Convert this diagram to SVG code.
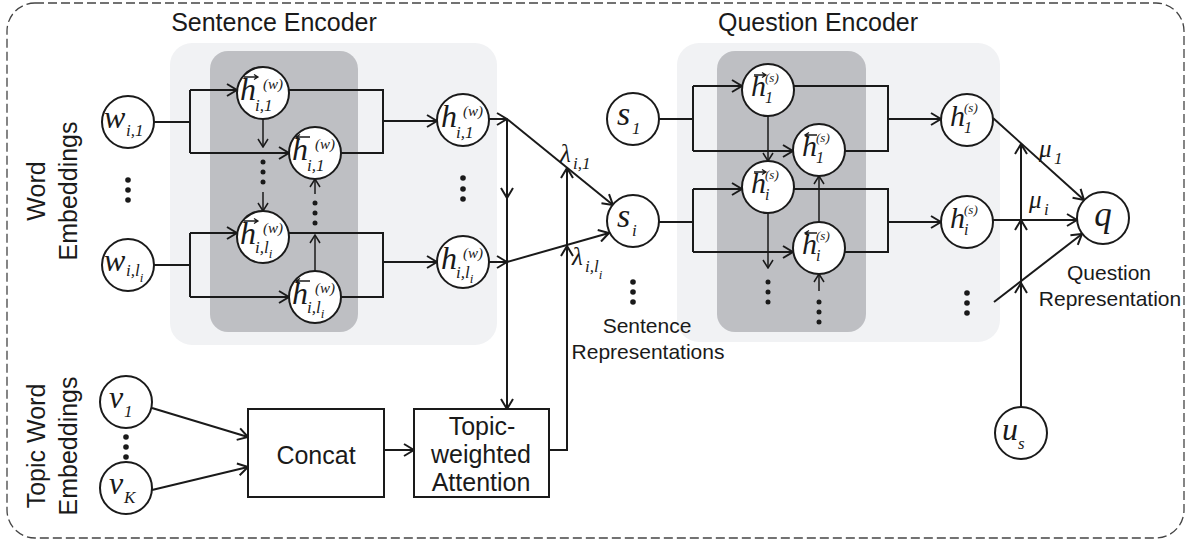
<svg xmlns="http://www.w3.org/2000/svg" width="1188" height="542" viewBox="0 0 1188 542">
<style>
.ln{fill:none;stroke:#1a1a1a;stroke-width:2}
.th{fill:none;stroke:#1a1a1a;stroke-width:1.5}
.nd{fill:#fff;stroke:#1a1a1a;stroke-width:2}
.bx{fill:#fff;stroke:#1a1a1a;stroke-width:2}
.m{font-family:'Liberation Serif',serif;font-style:italic;font-size:32px;fill:#1a1a1a}
.mq{font-family:'Liberation Serif',serif;font-style:italic;font-size:30px;fill:#1a1a1a}
.sb{font-family:'Liberation Serif',serif;font-style:italic;font-size:17px;fill:#1a1a1a}
.sp{font-family:'Liberation Serif',serif;font-style:italic;font-size:15px;fill:#1a1a1a}
.ss{font-size:13px}
.lb{font-family:'Liberation Sans',Arial,sans-serif;font-size:25px;fill:#1a1a1a}
.lm{font-family:'Liberation Sans',Arial,sans-serif;font-size:21px;fill:#1a1a1a}
.dot{fill:#1a1a1a}
.acc{fill:none;stroke:#1a1a1a;stroke-width:1.3}
</style>
<defs>
<marker id="a" viewBox="0 0 12 14" refX="11" refY="7" markerWidth="12" markerHeight="14" markerUnits="userSpaceOnUse" orient="auto">
<path d="M1,1 L11,7 L1,13" fill="none" stroke="#1a1a1a" stroke-width="2"/>
</marker>
<marker id="s" viewBox="0 0 10 12" refX="9" refY="6" markerWidth="10" markerHeight="12" markerUnits="userSpaceOnUse" orient="auto">
<path d="M1,1 L9,6 L1,11" fill="none" stroke="#1a1a1a" stroke-width="1.5"/>
</marker>
</defs>

<rect x="7" y="3" width="1177" height="535" rx="28" fill="none" stroke="#444" stroke-width="1.3" stroke-dasharray="9 4"/>

<g id="sentence-encoder-bg">
<rect x="170" y="43" width="327" height="302" rx="22" fill="#f1f2f4"/>
<rect x="210" y="51" width="148" height="281" rx="18" fill="#bebfc3"/>
</g>
<g id="question-encoder-bg">
<rect x="677" y="43" width="323" height="299" rx="22" fill="#f1f2f4"/>
<rect x="717" y="51" width="149" height="281" rx="18" fill="#bebfc3"/>
</g>

<text class="lb" x="274" y="31" text-anchor="middle">Sentence Encoder</text>
<text class="lb" x="818" y="31" text-anchor="middle">Question Encoder</text>
<text class="lb" transform="translate(45,191) rotate(-90)" text-anchor="middle">Word</text>
<text class="lb" transform="translate(77,191) rotate(-90)" text-anchor="middle">Embeddings</text>
<text class="lb" transform="translate(45,446) rotate(-90)" text-anchor="middle">Topic Word</text>
<text class="lb" transform="translate(77,446) rotate(-90)" text-anchor="middle">Embeddings</text>
<text class="lm" x="647" y="333" text-anchor="middle">Sentence</text>
<text class="lm" x="648" y="359" text-anchor="middle">Representations</text>
<text class="lm" x="1109" y="280" text-anchor="middle">Question</text>
<text class="lm" x="1110" y="306" text-anchor="middle">Representation</text>

<g id="connectors">
<path class="ln" d="M154,122 H190 M190,90 V153"/>
<path class="ln" d="M190,90 H237" marker-end="url(#a)"/>
<path class="ln" d="M190,153 H289" marker-end="url(#a)"/>
<path class="ln" d="M289,90 H383 V153 H341"/>
<path class="ln" d="M383,121 H437" marker-end="url(#a)"/>
<path class="ln" d="M154,265 H190 M190,233 V297"/>
<path class="ln" d="M190,233 H237" marker-end="url(#a)"/>
<path class="ln" d="M190,297 H289" marker-end="url(#a)"/>
<path class="ln" d="M289,233 H383 V297 H341"/>
<path class="ln" d="M383,262 H437" marker-end="url(#a)"/>
<path class="th" d="M263,119 V147" marker-end="url(#s)"/>
<path class="th" d="M263,192 V211" marker-end="url(#s)"/>
<path class="th" d="M315,271 V235" marker-end="url(#s)"/>
<path class="th" d="M315,194 V179" marker-end="url(#s)"/>
<path class="ln" d="M489,119 H507" marker-end="url(#a)"/>
<path class="ln" d="M489,262 H507" marker-end="url(#a)"/>
<path class="ln" d="M507,119 V198" marker-end="url(#a)"/>
<path class="ln" d="M507,198 V409" marker-end="url(#a)"/>
<path class="ln" d="M507,119 L613,205" marker-end="url(#a)"/>
<path class="ln" d="M507,262 L609,233" marker-end="url(#a)"/>
<path class="ln" d="M549,450 H567 V246" marker-end="url(#a)"/>
<path class="ln" d="M567,246 V168" marker-end="url(#a)"/>
<path class="ln" d="M152,408 L248,437" marker-end="url(#a)"/>
<path class="ln" d="M152,490 L248,467" marker-end="url(#a)"/>
<path class="ln" d="M384,450 H414" marker-end="url(#a)"/>
<path class="ln" d="M659,119 H693 M693,86 V151"/>
<path class="ln" d="M693,86 H742" marker-end="url(#a)"/>
<path class="ln" d="M693,151 H793" marker-end="url(#a)"/>
<path class="ln" d="M794,86 H888 V151 H845"/>
<path class="ln" d="M888,119 H941" marker-end="url(#a)"/>
<path class="ln" d="M659,222 H693 M693,189 V252"/>
<path class="ln" d="M693,189 H742" marker-end="url(#a)"/>
<path class="ln" d="M693,252 H793" marker-end="url(#a)"/>
<path class="ln" d="M794,189 H888 V252 H845"/>
<path class="ln" d="M888,222 H941" marker-end="url(#a)"/>
<path class="th" d="M768,116 V161" marker-end="url(#s)"/>
<path class="th" d="M768,213 V268" marker-end="url(#s)"/>
<path class="th" d="M819,222 V176" marker-end="url(#s)"/>
<path class="th" d="M819,291 V274" marker-end="url(#s)"/>
<path class="ln" d="M993,118 L1084,200" marker-end="url(#a)"/>
<path class="ln" d="M993,220 H1077" marker-end="url(#a)"/>
<path class="ln" d="M994,302 L1082,234" marker-end="url(#a)"/>
<path class="ln" d="M1021,407 V283" marker-end="url(#a)"/>
<path class="ln" d="M1021,283 V220" marker-end="url(#a)"/>
<path class="ln" d="M1021,220 V144" marker-end="url(#a)"/>
</g>

<g id="dots">
<circle class="dot" cx="128" cy="180" r="2.8"/><circle class="dot" cx="128" cy="190" r="2.8"/><circle class="dot" cx="128" cy="200" r="2.8"/>
<circle class="dot" cx="463" cy="178" r="2.8"/><circle class="dot" cx="463" cy="189" r="2.8"/><circle class="dot" cx="463" cy="199" r="2.8"/>
<circle class="dot" cx="263" cy="162" r="2.5"/><circle class="dot" cx="263" cy="172" r="2.5"/><circle class="dot" cx="263" cy="182" r="2.5"/>
<circle class="dot" cx="315" cy="203" r="2.5"/><circle class="dot" cx="315" cy="213" r="2.5"/><circle class="dot" cx="315" cy="223" r="2.5"/>
<circle class="dot" cx="633" cy="282" r="2.8"/><circle class="dot" cx="633" cy="292" r="2.8"/><circle class="dot" cx="633" cy="302" r="2.8"/>
<circle class="dot" cx="768" cy="282" r="2.5"/><circle class="dot" cx="768" cy="292" r="2.5"/><circle class="dot" cx="768" cy="302" r="2.5"/>
<circle class="dot" cx="819" cy="302" r="2.5"/><circle class="dot" cx="819" cy="312" r="2.5"/><circle class="dot" cx="819" cy="322" r="2.5"/>
<circle class="dot" cx="967" cy="293" r="2.8"/><circle class="dot" cx="967" cy="303" r="2.8"/><circle class="dot" cx="967" cy="313" r="2.8"/>
<circle class="dot" cx="126" cy="437" r="2.8"/><circle class="dot" cx="126" cy="447" r="2.8"/><circle class="dot" cx="126" cy="457" r="2.8"/>
</g>

<g id="labels">
<text class="m" x="560" y="162" style="font-size:25px">λ</text><text class="sb" x="573" y="169">i,1</text>
<text class="m" x="572" y="265" style="font-size:25px">λ</text><text class="sb" x="585" y="272">i,l<tspan class="ss" dy="7">i</tspan></text>
<text class="m" x="1039" y="157" style="font-size:25px">μ</text><text class="sb" x="1054" y="164">1</text>
<text class="m" x="1029" y="208" style="font-size:25px">μ</text><text class="sb" x="1044" y="215">i</text>
</g>

<g id="w_i1"><circle class="nd" cx="128" cy="122" r="26"/><text class="m" x="104" y="128">w</text><text class="sb" x="126" y="136">i,1</text></g>
<g id="w_ili"><circle class="nd" cx="128" cy="265" r="26"/><text class="m" x="104" y="271">w</text><text class="sb" x="126" y="276">i,l<tspan class="ss" dy="6">i</tspan></text></g>

<g id="hf_i1"><circle class="nd" cx="263" cy="93" r="26"/><text class="m" x="240" y="100">h</text><text class="sp" x="263" y="89">(w)</text><text class="sb" x="255" y="111">i,1</text><path class="acc" d="M244,77 H258 M254,74.5 L258,77 L254,79.5"/></g>
<g id="hb_i1"><circle class="nd" cx="315" cy="153" r="26"/><text class="m" x="292" y="160">h</text><text class="sp" x="315" y="149">(w)</text><text class="sb" x="307" y="171">i,1</text><path class="acc" d="M296,137 H310 M300,134.5 L296,137 L300,139.5"/></g>
<g id="hf_ili"><circle class="nd" cx="263" cy="237" r="26"/><text class="m" x="240" y="244">h</text><text class="sp" x="263" y="233">(w)</text><text class="sb" x="255" y="253">i,l<tspan class="ss" dy="5">i</tspan></text><path class="acc" d="M244,221 H258 M254,218.5 L258,221 L254,223.5"/></g>
<g id="hb_ili"><circle class="nd" cx="315" cy="297" r="26"/><text class="m" x="292" y="304">h</text><text class="sp" x="315" y="293">(w)</text><text class="sb" x="307" y="313">i,l<tspan class="ss" dy="5">i</tspan></text><path class="acc" d="M296,281 H310 M300,278.5 L296,281 L300,283.5"/></g>
<g id="h_i1"><circle class="nd" cx="463" cy="120" r="26"/><text class="m" x="441" y="127">h</text><text class="sp" x="463" y="116">(w)</text><text class="sb" x="456" y="138">i,1</text></g>
<g id="h_ili"><circle class="nd" cx="463" cy="262" r="26"/><text class="m" x="441" y="269">h</text><text class="sp" x="463" y="258">(w)</text><text class="sb" x="456" y="278">i,l<tspan class="ss" dy="5">i</tspan></text></g>

<g id="s_1"><circle class="nd" cx="633" cy="119" r="26"/><text class="m" x="617" y="125" style="font-size:34px">s</text><text class="sb" x="632" y="134">1</text></g>
<g id="s_i"><circle class="nd" cx="633" cy="221" r="26"/><text class="m" x="617" y="227" style="font-size:34px">s</text><text class="sb" x="632" y="236">i</text></g>

<g id="hf_1"><circle class="nd" cx="768" cy="90" r="26"/><text class="mq" x="751" y="96">h</text><text class="sp" x="765" y="82" style="font-size:13px">(s)</text><text class="sb" x="765" y="103" style="font-size:16px">1</text><path class="acc" d="M754,75 H766 M762,72.5 L766,75 L762,77.5"/></g>
<g id="hb_1"><circle class="nd" cx="819" cy="150" r="26"/><text class="mq" x="802" y="156">h</text><text class="sp" x="816" y="142" style="font-size:13px">(s)</text><text class="sb" x="816" y="163" style="font-size:16px">1</text><path class="acc" d="M805,135 H817 M809,132.5 L805,135 L809,137.5"/></g>
<g id="hf_i"><circle class="nd" cx="768" cy="187" r="26"/><text class="mq" x="751" y="193">h</text><text class="sp" x="765" y="179" style="font-size:13px">(s)</text><text class="sb" x="765" y="200" style="font-size:16px">i</text><path class="acc" d="M754,172 H766 M762,169.5 L766,172 L762,174.5"/></g>
<g id="hb_i"><circle class="nd" cx="819" cy="248" r="26"/><text class="mq" x="802" y="254">h</text><text class="sp" x="816" y="240" style="font-size:13px">(s)</text><text class="sb" x="816" y="261" style="font-size:16px">i</text><path class="acc" d="M805,233 H817 M809,230.5 L805,233 L809,235.5"/></g>
<g id="h_1"><circle class="nd" cx="967" cy="120" r="26"/><text class="mq" x="950" y="126">h</text><text class="sp" x="964" y="112" style="font-size:13px">(s)</text><text class="sb" x="964" y="133" style="font-size:16px">1</text></g>
<g id="h_i"><circle class="nd" cx="967" cy="222" r="26"/><text class="mq" x="950" y="228">h</text><text class="sp" x="964" y="214" style="font-size:13px">(s)</text><text class="sb" x="964" y="235" style="font-size:16px">i</text></g>

<g id="q"><circle class="nd" cx="1103" cy="218" r="26"/><text class="m" x="1103" y="226" text-anchor="middle" style="font-size:35px">q</text></g>
<g id="u_s"><circle class="nd" cx="1021" cy="433" r="26"/><text class="m" x="1002" y="440">u</text><text class="sb" x="1018" y="449">s</text></g>
<g id="v_1"><circle class="nd" cx="126" cy="402" r="26"/><text class="m" x="109" y="408">v</text><text class="sb" x="124" y="417">1</text></g>
<g id="v_K"><circle class="nd" cx="126" cy="488" r="26"/><text class="m" x="109" y="494">v</text><text class="sb" x="124" y="503">K</text></g>

<g id="concat"><rect class="bx" x="248" y="409" width="136" height="88"/><text class="lb" x="316" y="464" text-anchor="middle">Concat</text></g>
<g id="attention"><rect class="bx" x="414" y="409" width="135" height="88"/><text class="lb" x="482" y="435" text-anchor="middle">Topic-</text><text class="lb" x="481" y="463" text-anchor="middle">weighted</text><text class="lb" x="481" y="491" text-anchor="middle">Attention</text></g>
</svg>
